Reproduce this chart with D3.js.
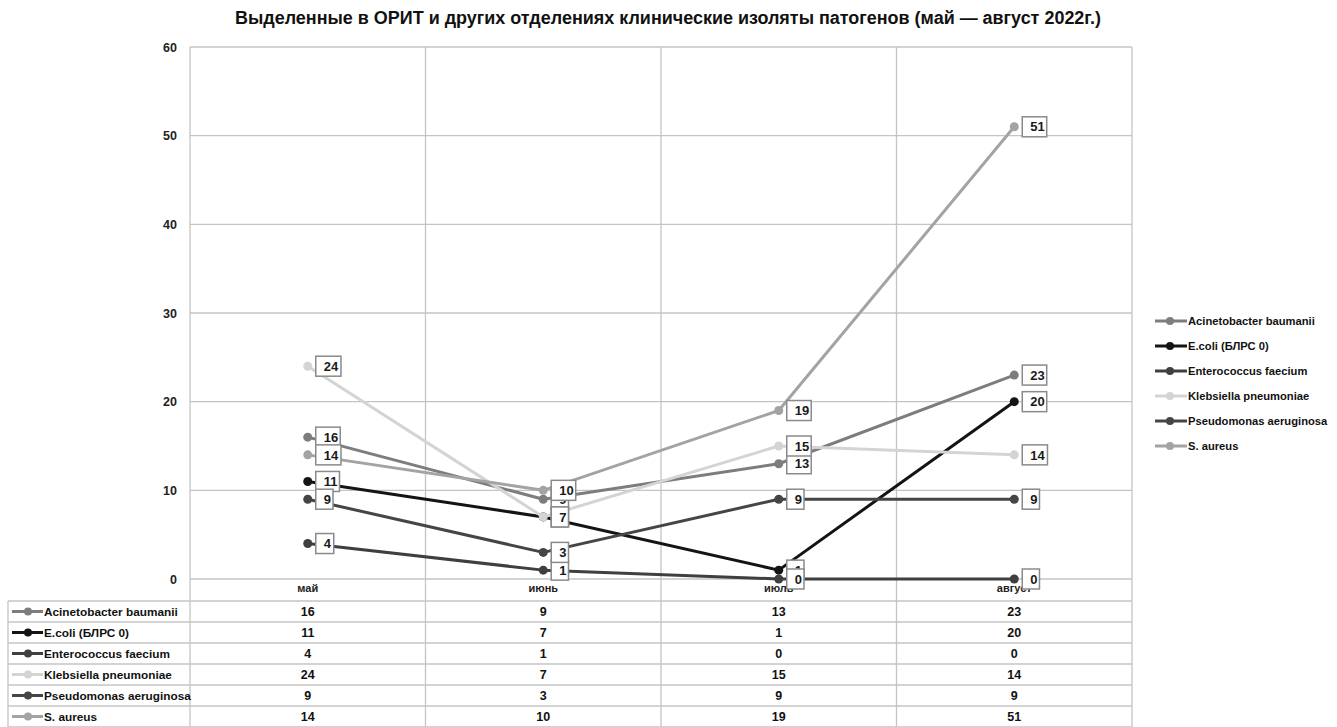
<!DOCTYPE html>
<html>
<head>
<meta charset="utf-8">
<script src="https://cdn.jsdelivr.net/npm/d3@7"></script>
<style>
  html, body { margin: 0; padding: 0; background: #fff; }
  svg { display: block; font-family: "Liberation Sans", Arial, sans-serif; }
</style>
</head>
<body>
<svg id="chart" width="1337" height="727"></svg>
<script>
// Months on the category axis
const months = ["май", "июнь", "июль", "август"];

// Pathogen series (names, grey tones, counts per month)
const seriesNames = [
  "Acinetobacter baumanii",
  "E.coli (БЛРС 0)",
  "Enterococcus faecium",
  "Klebsiella pneumoniae",
  "Pseudomonas aeruginosa",
  "S. aureus"
];
const seriesColors = ["#7d7d7d", "#141414", "#3f3f3f", "#d4d4d4", "#454545", "#a3a3a3"];

const acinetobacter = [16, 9, 13, 23];
const ecoli         = [11, 7, 1, 20];
const enterococcus  = [4, 1, 0, 0];
const klebsiella    = [24, 7, 15, 14];
const pseudomonas   = [9, 3, 9, 9];
const saureus       = [14, 10, 19, 51];

const yTicks = [0, 10, 20, 30, 40, 50, 60];
const titleText = "Выделенные в ОРИТ и других отделениях клинические изоляты патогенов (май — август 2022г.)";

const seriesValues = [acinetobacter, ecoli, enterococcus, klebsiella, pseudomonas, saureus];
const series = seriesNames.map((name, i) => ({ name, color: seriesColors[i], values: seriesValues[i] }));

const svg = d3.select("#chart");
const gridColor = "#c4c4c4";

const plot = { left: 190, right: 1132, top: 47, bottom: 579 };
const tableTop = 601, rowH = 21, tableLeft = 8;
const bottomEdge = 727;

const x = d3.scaleBand().domain(months).range([plot.left, plot.right]).paddingInner(0).paddingOuter(0);
const cx = m => x(m) + x.bandwidth() / 2;
const y = d3.scaleLinear().domain([0, 60]).range([plot.bottom, plot.top]);

// Title
svg.append("text")
  .attr("x", 668).attr("y", 24)
  .attr("text-anchor", "middle")
  .attr("font-size", 17.5).attr("font-weight", "bold")
  .attr("fill", "#111")
  .attr("textLength", 866).attr("lengthAdjust", "spacingAndGlyphs")
  .text(titleText);

// Horizontal gridlines
svg.append("g").selectAll("line").data(yTicks).join("line")
  .attr("x1", plot.left).attr("x2", plot.right)
  .attr("y1", d => y(d)).attr("y2", d => y(d))
  .attr("stroke", gridColor).attr("stroke-width", 1.3);

// Vertical category dividers (run down through the data table)
const dividers = months.map(m => x(m)).concat([plot.right]);
svg.append("g").selectAll("line").data(dividers).join("line")
  .attr("x1", d => d).attr("x2", d => d)
  .attr("y1", plot.top).attr("y2", bottomEdge)
  .attr("stroke", gridColor).attr("stroke-width", 1.3);

// Y axis labels
const yAxis = d3.axisLeft(y).tickValues(yTicks).tickSize(0).tickPadding(13);
const yg = svg.append("g").attr("transform", `translate(${plot.left},0)`).call(yAxis);
yg.select(".domain").remove();
yg.selectAll("text").attr("font-size", 12.5).attr("font-weight", "bold").attr("fill", "#222")
  .attr("font-family", "Liberation Sans, Arial, sans-serif");

// Category labels under the baseline
const xAxis = d3.axisBottom(x).tickSize(0).tickPadding(5);
const xg = svg.append("g").attr("transform", `translate(0,${plot.bottom})`).call(xAxis);
xg.select(".domain").remove();
xg.selectAll("text").attr("font-size", 11).attr("font-weight", "bold").attr("fill", "#222")
  .attr("font-family", "Liberation Sans, Arial, sans-serif");

// Data table grid
const rowLines = d3.range(series.length + 1).map(i => tableTop + i * rowH);
svg.append("g").selectAll("line").data(rowLines).join("line")
  .attr("x1", tableLeft).attr("x2", plot.right)
  .attr("y1", d => d).attr("y2", d => d)
  .attr("stroke", gridColor).attr("stroke-width", 1.3);
svg.append("line")
  .attr("x1", tableLeft).attr("x2", tableLeft)
  .attr("y1", tableTop).attr("y2", bottomEdge)
  .attr("stroke", gridColor).attr("stroke-width", 1.3);

// Lines and markers
const line = d3.line().x((d, i) => cx(months[i])).y(d => y(d));
const gLines = svg.append("g");
series.forEach(s => {
  gLines.append("path")
    .attr("d", line(s.values))
    .attr("fill", "none")
    .attr("stroke", s.color)
    .attr("stroke-width", 3)
    .attr("stroke-linejoin", "round");
  gLines.selectAll(null).data(s.values).join("circle")
    .attr("cx", (d, i) => cx(months[i]))
    .attr("cy", d => y(d))
    .attr("r", 4.5)
    .attr("fill", s.color);
});

// Value callouts beside each point
const gLabels = svg.append("g");
series.forEach(s => {
  s.values.forEach((v, i) => {
    const px = cx(months[i]), py = y(v);
    const g = gLabels.append("g");
    const t = g.append("text")
      .attr("x", px + 16).attr("y", py)
      .attr("dy", "0.36em")
      .attr("font-size", 13).attr("font-weight", "bold")
      .attr("fill", "#1a1a1a")
      .text(v);
    const bb = t.node().getBBox();
    g.insert("rect", "text")
      .attr("x", px + 8).attr("y", py - 10)
      .attr("width", bb.width + 10).attr("height", 20)
      .attr("fill", "#fff")
      .attr("stroke", "#8a8a8a").attr("stroke-width", 1.5);
  });
});

// Data table rows: legend key, name, monthly values
series.forEach((s, r) => {
  const yc = tableTop + r * rowH + rowH / 2;
  const g = svg.append("g");
  g.append("line").attr("x1", 12).attr("x2", 43).attr("y1", yc).attr("y2", yc)
    .attr("stroke", s.color).attr("stroke-width", 3);
  g.append("circle").attr("cx", 28).attr("cy", yc).attr("r", 4).attr("fill", s.color);
  g.append("text").attr("x", 44).attr("y", yc).attr("dy", "0.36em")
    .attr("font-size", 11.8).attr("font-weight", "bold").attr("fill", "#111")
    .text(s.name);
  g.selectAll("text.val").data(s.values).join("text")
    .attr("class", "val")
    .attr("x", (d, i) => cx(months[i])).attr("y", yc).attr("dy", "0.36em")
    .attr("text-anchor", "middle")
    .attr("font-size", 12.5).attr("font-weight", "bold").attr("fill", "#111")
    .text(d => d);
});

// Legend on the right
const legend = svg.append("g");
series.forEach((s, i) => {
  const ly = 321 + i * 25;
  legend.append("line").attr("x1", 1155).attr("x2", 1187).attr("y1", ly).attr("y2", ly)
    .attr("stroke", s.color).attr("stroke-width", 3);
  legend.append("circle").attr("cx", 1170).attr("cy", ly).attr("r", 4).attr("fill", s.color);
  legend.append("text").attr("x", 1188).attr("y", ly).attr("dy", "0.36em")
    .attr("font-size", 11.2).attr("font-weight", "bold").attr("fill", "#111")
    .text(s.name);
});
</script>
</body>
</html>
